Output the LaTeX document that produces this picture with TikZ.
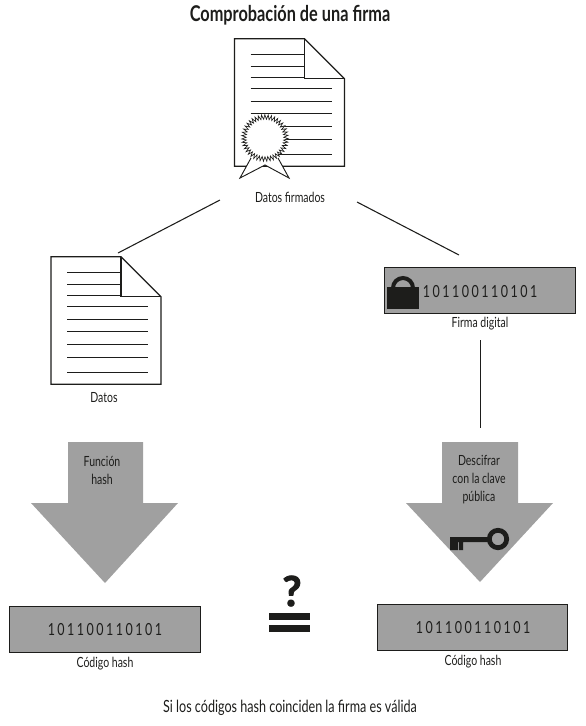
\documentclass[tikz,border=0pt]{standalone}
\usepackage{fontspec}
\setmainfont[FakeStretch=0.75]{Lato}
\usetikzlibrary{positioning, decorations.pathmorphing}
\definecolor{gris}{RGB}{160, 160, 160}
\definecolor{negro}{RGB}{29, 29, 27}
\tikzset{
  texto/.style={font=\fontsize{10.5pt}{13.5pt}\selectfont, align=center, inner sep=0pt, text=negro},
  titulo/.style={texto, font=\fontsize{16.3pt}{18pt}\selectfont\bfseries},
  codigo/.style={
    draw=negro, line width=0.75pt, fill=gris, minimum width=143pt, minimum height=34.5pt,
    inner sep=0pt
  },
  bits/.style={font=\addfontfeature{LetterSpace=15}\fontsize{12.5pt}{14pt}\selectfont, text=negro, inner sep=0pt},
  flecha/.style={fill=gris, draw=none},
  linea/.style={draw=negro, line width=0.8pt},
  barra/.style={fill=negro, draw=none},
  pics/hoja/.style={
    code={
      \draw[negro, line width=1pt, fill=white, line join=miter]
        (0,0) -- (70,0) -- (110,40) -- (110,127.5) -- (0,127.5) -- cycle;
      \draw[negro, line width=1pt] (70,0) -- (70,40) -- (110,40);
      \foreach \y in {16,28,39} \draw[negro, line width=0.75pt] (16,\y) -- (70,\y);
      \foreach \y in {50,63,75,88,101,116} \draw[negro, line width=0.75pt] (16,\y) -- (97,\y);
    }
  },
}

\begin{document}
\begin{tikzpicture}[x=0.75pt, y=-0.75pt]
\useasboundingbox (0,0) rectangle (586,726);

\node[titulo] (titulo) at (290,15) {Comprobación de una firma};

% documento firmado
\pic at (234.5,38.7) {hoja};
\draw[negro, line width=0.7pt, fill=white, line join=miter]
  (251,158) -- (240,178) -- (265,165) -- (289,178) -- (278,158);
\draw[negro, line width=0.5pt, fill=white,
      decorate, decoration={zigzag, segment length=2.3pt, amplitude=1.7pt}]
  (265,138) circle (21);
\node[texto] (firmados) at (290,197) {Datos firmados};

% documento sin firma
\pic at (51,256.7) {hoja};
\node[texto] (datos) at (104,398) {Datos};

\coordinate (fi) at (220,200);
\coordinate (fd) at (357,202);
\coordinate (di) at (118,253);
\coordinate (dd) at (459,255);
\draw[linea] (fi) -- (di);
\draw[linea] (fd) -- (dd);

% firma digital
\node[codigo] (firma) at (480,290) {};
\node[bits] (bitsfirma) at (480,292) {101100110101};
\fill[negro] (387,287) rectangle (419,309);
\draw[negro, line width=3pt] (393,288) arc[start angle=180, end angle=360, radius=10];
\node[texto] (nombrefirma) at (480,324) {Firma digital};

\coordinate (fa) at (480.5,340);
\coordinate (fb) at (480.5,428);
\draw[negro, line width=0.7pt] (fa) -- (fb);

% flechas
\fill[flecha] (68,442) -- (143,442) -- (143,503) -- (178,503) -- (105,583)
  -- (31,503) -- (68,503) -- cycle;
\node[texto] (funcion) at (102,470) {Función\\hash};

\fill[flecha] (442,442) -- (518,442) -- (518,503) -- (553,503) -- (480,582)
  -- (406,503) -- (442,503) -- cycle;
\node[texto] (descifrar) at (479,479.5) {Descifrar\\con la clave\\pública};

% llave
\fill[negro] (450,537) -- (490,537) -- (490,542) -- (463,542) -- (463,550) -- (459,550)
  -- (459,542) -- (458,542) -- (458,550) -- (450,550) -- cycle;
\draw[negro, line width=3.6pt] (498,539) circle (8.7);

% codigos hash
\node[codigo] (hashi) at (105,629) {};
\node[bits] (bitsi) at (105,630) {101100110101};
\node[texto] (nombrei) at (105,664) {Código hash};

\node[codigo] (hashd) at (472.5,627.5) {};
\node[bits] (bitsd) at (473,628) {101100110101};
\node[texto] (nombred) at (473,662) {Código hash};

% comparacion
\node[font=\bfseries\addfontfeature{FakeStretch=1,FakeBold=2.5}\fontsize{31pt}{33pt}\selectfont, text=negro, inner sep=0pt] (pregunta) at (292,591) {?};
\fill[barra] (269,613) rectangle (310,620);
\fill[barra] (269,625) rectangle (310,632);

\node[texto, font=\fontsize{12.6pt}{15pt}\selectfont] (nota) at (290,708) {Si los códigos hash coinciden la firma es válida};

\end{tikzpicture}
\end{document}
